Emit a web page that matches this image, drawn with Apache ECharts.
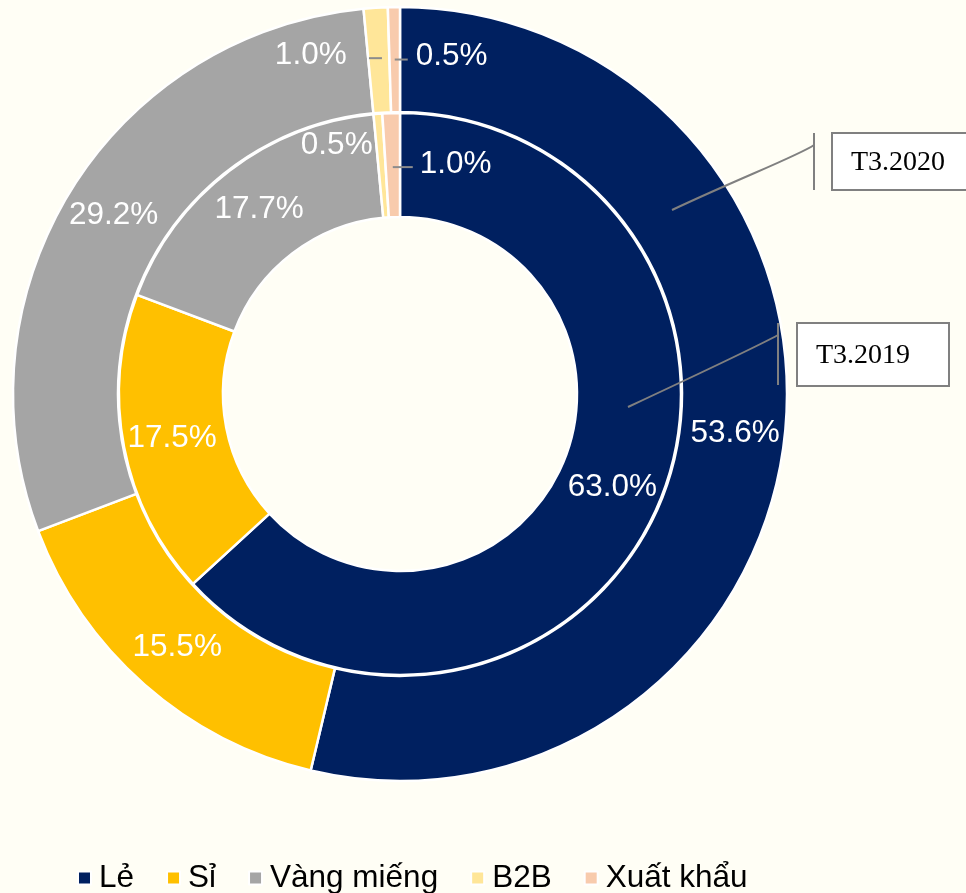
<!DOCTYPE html>
<html>
<head>
<meta charset="utf-8">
<script src="https://cdn.jsdelivr.net/npm/echarts@6/dist/echarts.min.js"></script>
<style>
  html, body { margin: 0; padding: 0; background: #FFFEF5; }
  #chart { width: 966px; height: 893px; }
</style>
</head>
<body>
<div id="chart"></div>
<script>
// channel shares (%), Mar 2019 inner ring / Mar 2020 outer ring
const categories = ['Lẻ', 'Sỉ', 'Vàng miếng', 'B2B', 'Xuất khẩu'];
const colors = ['#002060', '#FFC000', '#A5A5A5', '#FFE699', '#F8CBAD'];
const values2019 = [63.0, 17.5, 17.7, 0.5, 1.0];
const values2020 = [53.6, 15.5, 29.2, 1.0, 0.5];

const center = [400, 394];
const outerRadius = [282, 387];
const innerRadius = [177, 281];

// label nudges for the thin slices near 12 o'clock: [dx, dy]
const outerNudge = { 3: [-68, -2], 4: [57, 0] };
const innerNudge = { 3: [-45, -17], 4: [63, 2] };
// short leader segments, x offsets from slice middle
const outerLeaders = { 3: [-10, 3], 4: [0, 13] };
const innerLeaders = { 4: [0, 20] };

const chart = echarts.init(document.getElementById('chart'));

const toData = (vals) => vals.map((v, i) => ({
  name: categories[i],
  value: v,
  itemStyle: { color: colors[i] },
}));

const midPoint = (vals, idx, radius) => {
  const total = vals.reduce((a, b) => a + b, 0);
  let before = 0;
  for (let i = 0; i < idx; i++) before += vals[i];
  const frac = (before + vals[idx] / 2) / total;
  const r = (radius[0] + radius[1]) / 2;
  const ang = frac * Math.PI * 2;
  return [center[0] + r * Math.sin(ang), center[1] - r * Math.cos(ang)];
};

const leaderLines = (vals, radius, leaders, nudges) => Object.keys(leaders).map((k) => {
  const i = Number(k);
  const [mx, my] = midPoint(vals, i, radius);
  const y = my + (nudges[i] ? nudges[i][1] : 0);
  return {
    type: 'line',
    shape: { x1: mx + leaders[k][0], y1: y, x2: mx + leaders[k][1], y2: y },
    style: { stroke: '#8C8C8C', lineWidth: 2 },
    z: 10,
  };
});

const labelFont = {
  show: true,
  position: 'inside',
  color: '#FFFFFF',
  fontSize: 31.5,
  fontFamily: 'Liberation Sans, Arial, sans-serif',
  formatter: (p) => p.value.toFixed(1) + '%',
};

const pieSeries = (name, vals, radius, nudges) => ({
  name,
  type: 'pie',
  center,
  radius,
  startAngle: 90,
  clockwise: true,
  avoidLabelOverlap: false,
  silent: true,
  itemStyle: { borderColor: '#FFFFFF', borderWidth: 2.5 },
  label: labelFont,
  labelLine: { show: false },
  labelLayout: (params) => {
    const n = nudges[params.dataIndex];
    return n ? { dx: n[0], dy: n[1] } : {};
  },
  emphasis: { disabled: true },
  data: toData(vals),
});

const callout = (text, curve, bracket, box) => [
  {
    type: 'bezierCurve',
    shape: curve,
    style: { stroke: '#808080', lineWidth: 2, fill: null },
    z: 10,
  },
  {
    type: 'line',
    shape: bracket,
    style: { stroke: '#808080', lineWidth: 2 },
    z: 10,
  },
  {
    type: 'rect',
    shape: box,
    style: { fill: '#FFFFFF', stroke: '#808080', lineWidth: 2 },
    z: 10,
  },
  {
    type: 'text',
    x: box.x + 19,
    y: box.y + box.height / 2 + 1,
    style: {
      text,
      fill: '#000000',
      fontSize: 28,
      fontFamily: 'Liberation Serif, serif',
      verticalAlign: 'middle',
      align: 'left',
    },
    z: 11,
  },
];

chart.setOption({
  backgroundColor: '#FFFEF5',
  animation: false,
  color: colors,
  legend: {
    left: 72,
    top: 857,
    itemWidth: 13,
    itemHeight: 13,
    itemGap: 32,
    icon: 'rect',
    data: categories,
    textStyle: {
      fontSize: 31.5,
      color: '#000000',
      fontFamily: 'Liberation Sans, Arial, sans-serif',
      padding: [0, 0, 0, 3],
    },
  },
  series: [
    pieSeries('T3.2019', values2019, innerRadius, innerNudge),
    pieSeries('T3.2020', values2020, outerRadius, outerNudge),
  ],
  graphic: [
    ...leaderLines(values2020, outerRadius, outerLeaders, outerNudge),
    ...leaderLines(values2019, innerRadius, innerLeaders, innerNudge),
    ...callout('T3.2020',
      { x1: 672, y1: 210, x2: 814, y2: 145, cpx1: 740, cpy1: 178, cpx2: 800, cpy2: 155 },
      { x1: 814, y1: 133, x2: 814, y2: 190 },
      { x: 832, y: 133, width: 140, height: 57 }),
    ...callout('T3.2019',
      { x1: 628, y1: 407, x2: 778, y2: 335, cpx1: 690, cpy1: 378, cpx2: 760, cpy2: 345 },
      { x1: 778, y1: 323, x2: 778, y2: 385 },
      { x: 797, y: 323, width: 152, height: 63 }),
  ],
});
</script>
</body>
</html>
